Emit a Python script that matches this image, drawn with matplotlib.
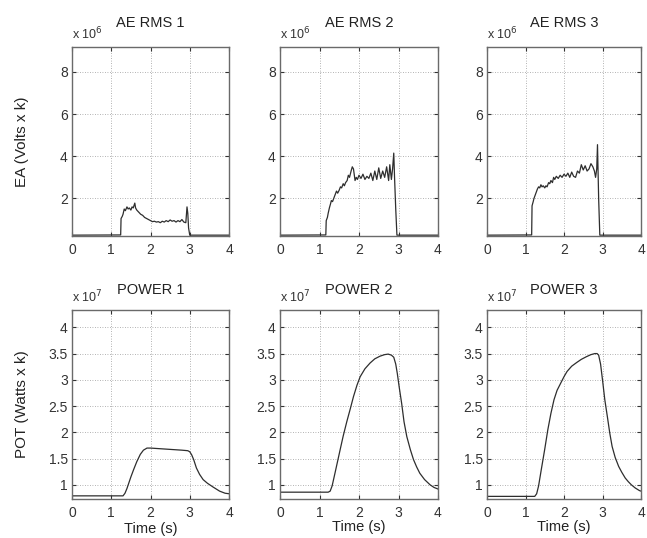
import matplotlib
matplotlib.use("Agg")
import matplotlib.pyplot as plt

plt.rcParams['font.family'] = ['Liberation Sans', 'DejaVu Sans']

# ---------------- data ----------------
ae_titles = ["AE RMS 1", "AE RMS 2", "AE RMS 3"]
pw_titles = ["POWER 1", "POWER 2", "POWER 3"]

# AE RMS, units of 1e6
ae1_t = [0, 1.24, 1.25, 1.28, 1.30, 1.33, 1.36, 1.40, 1.43, 1.46, 1.50, 1.53, 1.56, 1.60,
         1.62, 1.65, 1.70, 1.75, 1.80, 1.85, 1.90, 1.95, 2.00, 2.05, 2.10, 2.15, 2.20, 2.25,
         2.30, 2.35, 2.40, 2.45, 2.50, 2.55, 2.60, 2.65, 2.70, 2.75, 2.80, 2.85, 2.90, 2.93,
         2.95, 2.97, 3.00, 4.0]
ae1_v = [0.26, 0.27, 1.05, 1.15, 1.25, 1.50, 1.42, 1.60, 1.50, 1.55, 1.45, 1.60, 1.55, 1.78,
         1.55, 1.45, 1.35, 1.25, 1.20, 1.10, 1.05, 1.00, 0.95, 0.90, 0.92, 0.88, 0.90, 0.85,
         0.92, 0.88, 0.95, 0.90, 0.98, 0.92, 0.95, 0.88, 0.95, 0.90, 1.00, 0.88, 0.85, 1.60,
         1.30, 0.60, 0.26, 0.26]

ae2_t = [0, 1.16, 1.17, 1.20, 1.22, 1.25, 1.28, 1.30, 1.33, 1.36, 1.40, 1.43, 1.46, 1.50,
         1.53, 1.56, 1.60, 1.63, 1.66, 1.70, 1.73, 1.76, 1.80, 1.83, 1.86, 1.90, 1.93, 1.96,
         2.00, 2.05, 2.10, 2.15, 2.20, 2.25, 2.30, 2.35, 2.40, 2.45, 2.50, 2.55, 2.60, 2.65,
         2.70, 2.75, 2.78, 2.82, 2.85, 2.88, 2.90, 2.93, 2.96, 4.0]
ae2_v = [0.26, 0.27, 0.95, 1.10, 1.30, 1.55, 1.75, 1.90, 1.85, 2.00, 2.20, 2.35, 2.25, 2.40,
         2.55, 2.50, 2.70, 2.60, 2.75, 2.85, 3.10, 3.00, 3.30, 3.50, 3.40, 2.85, 3.00, 2.90,
         3.10, 2.95, 3.15, 2.90, 3.05, 2.95, 3.20, 2.85, 3.30, 2.90, 3.45, 2.95, 3.30, 3.00,
         3.50, 2.85, 3.60, 2.90, 3.40, 4.15, 3.00, 1.50, 0.26, 0.26]

ae3_t = [0, 1.16, 1.17, 1.20, 1.22, 1.25, 1.28, 1.31, 1.34, 1.37, 1.40, 1.43, 1.46, 1.50,
         1.53, 1.56, 1.60, 1.63, 1.66, 1.70, 1.73, 1.76, 1.80, 1.85, 1.90, 1.95, 2.00, 2.05,
         2.10, 2.15, 2.20, 2.25, 2.30, 2.35, 2.40, 2.45, 2.50, 2.55, 2.60, 2.65, 2.70, 2.75,
         2.79, 2.82, 2.85, 2.87, 2.90, 2.93, 4.0]
ae3_v = [0.26, 0.27, 1.65, 1.85, 2.00, 2.15, 2.30, 2.45, 2.55, 2.50, 2.65, 2.55, 2.60, 2.50,
         2.60, 2.55, 2.75, 2.70, 2.85, 2.75, 3.00, 2.90, 3.05, 2.95, 3.10, 3.00, 3.15, 3.05,
         3.20, 3.00, 3.25, 3.05, 3.00, 3.30, 3.20, 3.60, 3.35, 3.55, 3.30, 3.40, 3.65, 3.50,
         3.30, 3.00, 3.40, 4.55, 2.00, 0.26, 0.26]

# POWER, units of 1e7
pw1_t = [0, 1.30, 1.35, 1.40, 1.45, 1.50, 1.57, 1.65, 1.74, 1.82, 1.91, 2.00, 2.20, 2.40,
         2.60, 2.80, 2.95, 3.00, 3.05, 3.10, 3.17, 3.25, 3.34, 3.45, 3.59, 3.76, 3.90, 4.0]
pw1_v = [0.79, 0.79, 0.84, 0.93, 1.04, 1.15, 1.29, 1.44, 1.58, 1.66, 1.70, 1.70, 1.69, 1.68,
         1.67, 1.66, 1.65, 1.63, 1.57, 1.48, 1.32, 1.20, 1.10, 1.03, 0.96, 0.88, 0.84, 0.83]

pw2_t = [0, 1.22, 1.27, 1.32, 1.40, 1.52, 1.60, 1.69, 1.78, 1.86, 1.95, 2.03, 2.15, 2.28,
         2.40, 2.53, 2.65, 2.74, 2.82, 2.88, 2.93, 2.97, 3.02, 3.08, 3.14, 3.21, 3.30, 3.38,
         3.46, 3.54, 3.66, 3.80, 3.90, 4.0]
pw2_v = [0.86, 0.86, 0.88, 0.98, 1.25, 1.66, 1.93, 2.20, 2.45, 2.68, 2.90, 3.06, 3.21, 3.32,
         3.40, 3.45, 3.48, 3.49, 3.47, 3.43, 3.30, 3.12, 2.85, 2.55, 2.20, 1.92, 1.67, 1.48,
         1.34, 1.22, 1.10, 1.00, 0.95, 0.92]

pw3_t = [0, 1.24, 1.29, 1.34, 1.41, 1.50, 1.58, 1.66, 1.74, 1.82, 1.91, 2.00, 2.08, 2.20,
         2.33, 2.45, 2.58, 2.70, 2.80, 2.86, 2.90, 2.95, 3.00, 3.06, 3.13, 3.19, 3.25, 3.33,
         3.42, 3.50, 3.59, 3.67, 3.75, 3.85, 3.96, 4.0]
pw3_v = [0.78, 0.78, 0.83, 0.98, 1.29, 1.68, 2.05, 2.36, 2.62, 2.80, 2.93, 3.06, 3.16, 3.26,
         3.33, 3.39, 3.44, 3.48, 3.50, 3.50, 3.47, 3.30, 3.00, 2.62, 2.28, 1.98, 1.73, 1.52,
         1.35, 1.24, 1.13, 1.06, 1.00, 0.94, 0.89, 0.88]

ae_t = [ae1_t, ae2_t, ae3_t]
ae_v = [ae1_v, ae2_v, ae3_v]
pw_t = [pw1_t, pw2_t, pw3_t]
pw_v = [pw1_v, pw2_v, pw3_v]

ae_yticks = [2, 4, 6, 8]
ae_yticklabels = ["2", "4", "6", "8"]
pw_yticks = [1, 1.5, 2, 2.5, 3, 3.5, 4]
pw_yticklabels = ["1", "1.5", "2", "2.5", "3", "3.5", "4"]
xticks = [0, 1, 2, 3, 4]

# ---------------- figure ----------------
W, H = 647, 538
fig = plt.figure(figsize=(W / 100, H / 100), dpi=100)

lefts = [72, 280, 487]
widths = [157, 158, 154]
top_row = (47, 236)
bot_row = (310, 499)
row_h = 189.0

line_col = "#2e2e2e"
spine_col = "#6a6a6a"
txt_col = "#222222"
tick_fs = 10
lab_fs = 10.5


def make_ax(left, width, rowpx):
    t, b = rowpx
    return fig.add_axes([left / W, 1 - b / H, width / W, (b - t) / H])


def style(ax):
    ax.set_xlim(0, 4)
    ax.set_xticks(xticks)
    ax.set_xticklabels([str(x) for x in xticks])
    ax.grid(True, linestyle=(0, (1, 2)), color="#9a9a9a", linewidth=0.6)
    ax.tick_params(direction="in", length=3, labelsize=tick_fs, colors="#333333",
                   top=True, right=True)
    ax.tick_params(axis="x", pad=5)
    ax.tick_params(axis="y", pad=3)
    for s in ax.spines.values():
        s.set_color(spine_col)
        s.set_linewidth(1.0)


for i in range(3):
    ax = make_ax(lefts[i], widths[i], top_row)
    ax.plot(ae_t[i], ae_v[i], color=line_col, linewidth=0.9)
    ax.set_ylim(0.22, 9.18)
    ax.set_yticks(ae_yticks)
    ax.set_yticklabels(ae_yticklabels)
    style(ax)
    ax.text(0.5, 1 + 24 / row_h, ae_titles[i], transform=ax.transAxes, fontsize=lab_fs,
            ha="center", va="center", color=txt_col)
    ax.text(0.0, 1 + 5 / row_h, r"x 10$^{6}$", transform=ax.transAxes, fontsize=9,
            ha="left", va="bottom", color="#333333")
    if i == 0:
        ax.text(-50 / widths[i], 0.5, "EA (Volts x k)", transform=ax.transAxes,
                fontsize=lab_fs + 0.5, rotation=90, ha="center", va="center", color=txt_col)

for i in range(3):
    ax = make_ax(lefts[i], widths[i], bot_row)
    ax.plot(pw_t[i], pw_v[i], color=line_col, linewidth=0.9)
    ax.set_ylim(0.73, 4.33)
    ax.set_yticks(pw_yticks)
    ax.set_yticklabels(pw_yticklabels)
    style(ax)
    ax.text(0.5, 1 + 20 / row_h, pw_titles[i], transform=ax.transAxes, fontsize=lab_fs,
            ha="center", va="center", color=txt_col)
    ax.text(0.0, 1 + 5 / row_h, r"x 10$^{7}$", transform=ax.transAxes, fontsize=9,
            ha="left", va="bottom", color="#333333")
    ax.text(0.5, -(30 if i == 0 else 28) / row_h, "Time (s)", transform=ax.transAxes,
            fontsize=lab_fs, ha="center", va="center", color=txt_col)
    if i == 0:
        ax.text(-50 / widths[i], 0.5, "POT (Watts x k)", transform=ax.transAxes,
                fontsize=lab_fs + 0.5, rotation=90, ha="center", va="center", color=txt_col)

fig.savefig("out.png", dpi=100)
